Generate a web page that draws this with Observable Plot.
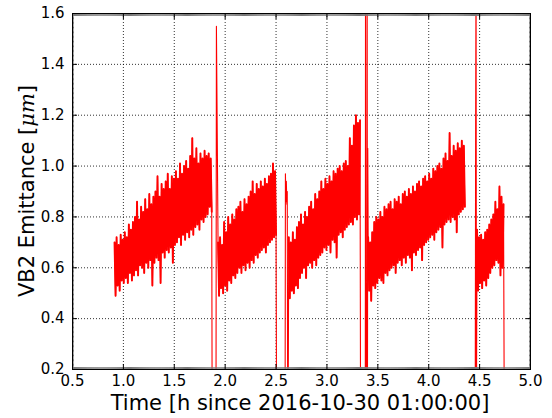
<!DOCTYPE html>
<html><head><meta charset="utf-8">
<script src="https://cdn.jsdelivr.net/npm/d3@7"></script>
<script src="https://cdn.jsdelivr.net/npm/@observablehq/plot@0.6"></script>
<style>
body{margin:0;background:#fff}
svg{display:block}
</style>
</head><body><div id="chart"></div>
<script>
// ---- axis ticks & labels ----
const xTicks = [0.5, 1.0, 1.5, 2.0, 2.5, 3.0, 3.5, 4.0, 4.5, 5.0];
const yTicks = [0.2, 0.4, 0.6, 0.8, 1.0, 1.2, 1.4, 1.6];
const xLabel = "Time [h since 2016-10-30 01:00:00]";
const yLabelMain = "VB2 Emittance [";
const yLabelUnit = "μm";

// ---- emittance segments: [start h, end h] and sampled values (μm) ----
const seg1Range = [0.913, 1.868];
const seg1Values = [
  0.70,0.49,0.72,0.53,0.69,0.51,0.73,0.55,0.71,0.54,
  0.74,0.56,0.72,0.54,0.77,0.58,0.75,0.55,0.78,0.57,
  0.80,0.59,0.86,0.57,0.79,0.61,0.84,0.60,0.82,0.58,
  0.87,0.62,0.83,0.60,0.89,0.63,0.85,0.53,0.88,0.62,
  0.90,0.64,0.96,0.63,0.88,0.54,0.93,0.66,0.91,0.64,
  0.94,0.67,0.97,0.66,0.91,0.68,0.96,0.62,0.95,0.69,
  0.98,0.70,0.95,0.72,1.01,0.69,0.97,0.73,1.00,0.71,
  1.02,0.74,0.99,0.72,1.04,0.75,1.11,0.73,1.03,0.76,
  1.07,0.77,1.01,0.75,1.05,0.79,1.03,0.78,1.06,0.80,
  1.04,0.81,1.05,0.84,1.03,0.82
];
const seg2Range = [1.930, 2.500];
const seg2Values = [
  0.70,0.49,0.72,0.52,0.69,0.50,0.78,0.53,0.74,0.51,
  0.80,0.55,0.77,0.54,0.81,0.57,0.79,0.56,0.83,0.58,
  0.84,0.60,0.86,0.58,0.82,0.61,0.87,0.59,0.85,0.62,
  0.88,0.60,0.90,0.63,0.94,0.62,0.89,0.65,0.93,0.64,
  0.91,0.66,0.94,0.67,0.92,0.68,0.95,0.66,0.93,0.69,
  0.96,0.70,0.97,0.71,1.01,0.72,0.98,0.73
];
const seg3Range = [2.625, 3.325];
const seg3Values = [
  0.72,0.48,0.70,0.51,0.74,0.50,0.71,0.53,0.76,0.52,
  0.78,0.56,0.81,0.58,0.77,0.60,0.82,0.56,0.80,0.61,
  0.84,0.62,0.86,0.60,0.83,0.63,0.89,0.61,0.87,0.64,
  0.90,0.65,0.94,0.66,0.91,0.68,0.95,0.67,0.93,0.69,
  0.96,0.66,0.94,0.71,0.98,0.70,0.97,0.64,0.99,0.73,
  1.00,0.74,0.98,0.72,1.01,0.75,1.02,0.76,1.00,0.77,
  1.11,0.78,1.08,0.77,1.16,0.80,1.20,0.79,1.17,0.81,1.18
];
const seg4Range = [3.405, 4.355];
const seg4Values = [
  0.72,0.51,0.70,0.47,0.74,0.53,0.78,0.52,0.80,0.54,
  0.79,0.56,0.82,0.55,0.80,0.54,0.84,0.58,0.83,0.57,
  0.85,0.59,0.86,0.60,0.83,0.61,0.87,0.58,0.86,0.62,
  0.88,0.63,0.85,0.61,0.89,0.64,0.90,0.62,0.88,0.65,
  0.91,0.64,0.89,0.59,0.92,0.66,0.90,0.65,0.93,0.67,
  0.94,0.68,0.92,0.63,0.95,0.69,0.96,0.70,0.94,0.71,
  0.97,0.72,0.95,0.73,0.99,0.71,0.98,0.74,1.00,0.75,
  1.01,0.76,0.99,0.68,1.03,0.77,1.05,0.78,1.02,0.79,
  1.13,0.78,1.04,0.80,1.08,0.79,1.06,0.74,1.09,0.81,
  1.07,0.82,1.10,0.83,1.08,0.84
];
const seg5Range = [4.475, 4.735];
const seg5Values = [
  0.75,0.51,0.72,0.54,0.73,0.52,0.71,0.55,0.74,0.53,
  0.75,0.56,0.77,0.58,0.79,0.60,0.81,0.61,0.86,0.63,
  0.83,0.62,0.92,0.57,0.88,0.60,0.85
];
// beam-loss drops, spikes and the data gap: [time h, emittance μm]
const eventTimes  = [1.872, 1.910, 1.914, 1.922, 2.505, 2.589, 2.592, 2.597, 2.601, 2.606, 2.610, 2.614, 2.619,
                     3.330, 3.377, 3.379, 3.383, 3.392, 3.395, 3.398, 3.401, 4.400, 4.457, 4.461, 4.465, 4.469, 4.742];
const eventValues = [0.05,  0.05,  1.55,  1.13,  0.05,  0.05,  0.97,  0.86,  0.94,  0.85,  0.90,  0.05,  0.05,
                     0.05,  0.05,  1.80,  0.05,  0.05,  1.80,  0.05,  1.07,  NaN,   0.05,  1.17,  1.80,  0.05,  0.05];

// ---- build table ----
const segs = [[seg1Range, seg1Values],[seg2Range, seg2Values],[seg3Range, seg3Values],[seg4Range, seg4Values],[seg5Range, seg5Values]];
const bandData = [];
segs.forEach(([[a, b], vals], k) => {
  vals.forEach((v, i) => bandData.push({t: a + (b - a) * i / (vals.length - 1), v, seg: k}));
});
const data = bandData.concat(eventTimes.map((t, i) => ({t, v: eventValues[i], seg: -1})));
data.sort((p, q) => p.t - q.t);

const fmt = d3.format(".1f");
const minorCol = "#777";

const svg = Plot.plot({
  width: 552, height: 418,
  marginLeft: 72, marginRight: 22, marginTop: 13, marginBottom: 49,
  style: {fontFamily: "'DejaVu Sans', sans-serif", fontSize: "15px", background: "white", color: "black"},
  x: {domain: [0.5, 5.0]},
  y: {domain: [0.2, 1.6]},
  marks: [
    Plot.gridX(xTicks, {stroke: "black", strokeOpacity: 0.9, strokeDasharray: "1,2", strokeWidth: 0.9}),
    Plot.gridY(yTicks, {stroke: "black", strokeOpacity: 0.9, strokeDasharray: "1,2", strokeWidth: 0.9}),
    Plot.line(data, {x: "t", y: "v", stroke: "#ff0000", strokeWidth: 1.1, clip: true}),
    Plot.line(bandData, {x: "t", y: "v", z: "seg", stroke: "#ff0000", strokeWidth: 1.9, strokeLinejoin: "round", clip: true}),
    // minor ticks (inward)
    Plot.axisX({anchor: "bottom", ticks: 450, tickSize: -2, text: null, label: null, stroke: minorCol}),
    Plot.axisX({anchor: "top", ticks: 450, tickSize: -2, text: null, label: null, stroke: minorCol}),
    Plot.axisY({anchor: "left", ticks: 280, tickSize: -2, text: null, label: null, stroke: minorCol}),
    Plot.axisY({anchor: "right", ticks: 280, tickSize: -2, text: null, label: null, stroke: minorCol}),
    // major ticks (inward)
    Plot.axisX({anchor: "bottom", ticks: xTicks, tickSize: -5, tickPadding: 11, tickFormat: fmt, label: null, fontSize: 15}),
    Plot.axisX({anchor: "top", ticks: xTicks, tickSize: -5, text: null, label: null}),
    Plot.axisY({anchor: "left", ticks: yTicks, tickSize: -5, tickPadding: 13, tickFormat: fmt, label: null, fontSize: 15}),
    Plot.axisY({anchor: "right", ticks: yTicks, tickSize: -5, text: null, label: null}),
    Plot.frame({stroke: "black", strokeWidth: 1})
  ]
});

const s = d3.select(svg);
s.append("text")
  .attr("x", 300).attr("y", 410)
  .attr("text-anchor", "middle")
  .attr("font-size", 21).attr("fill", "black")
  .text(xLabel);
const yl = s.append("text")
  .attr("transform", "translate(34," + ((13 + 369) / 2) + ") rotate(-90)")
  .attr("text-anchor", "middle")
  .attr("font-size", 21).attr("fill", "black");
yl.append("tspan").text(yLabelMain);
yl.append("tspan").attr("font-style", "italic").attr("font-family", "'DejaVu Serif', serif").text(yLabelUnit);
yl.append("tspan").text("]");

document.getElementById("chart").append(svg);
</script>
</body></html>
